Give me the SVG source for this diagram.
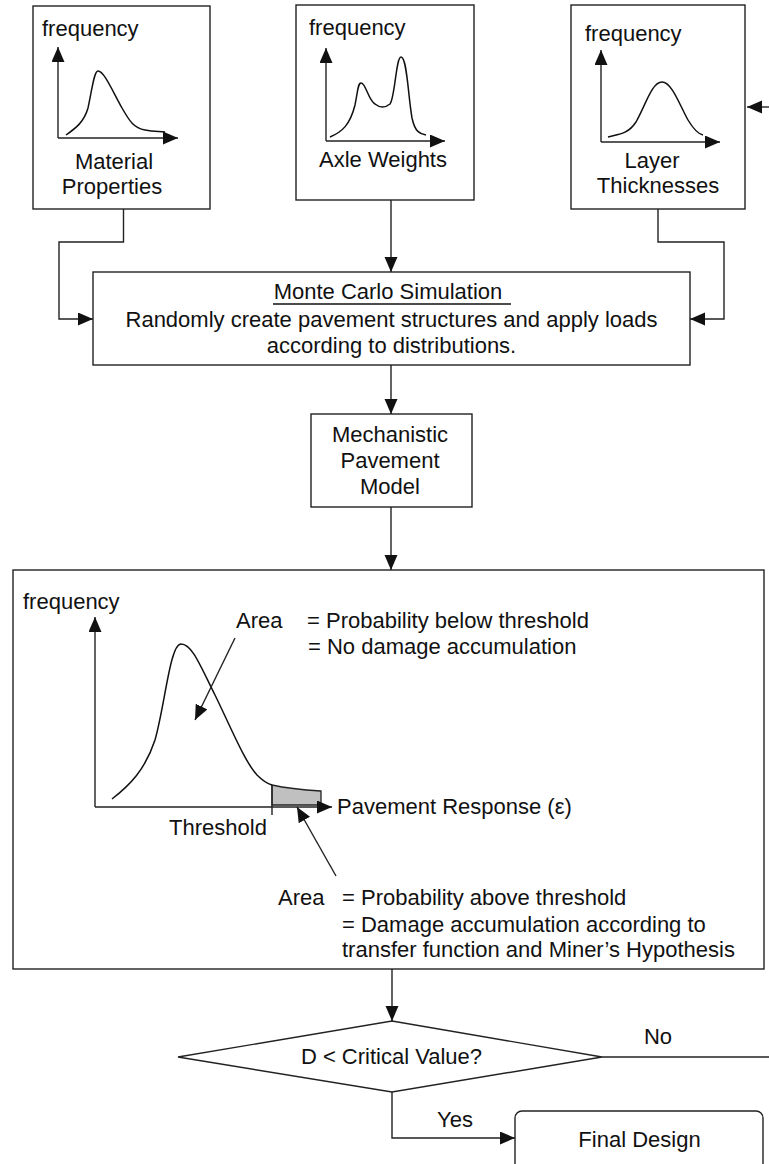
<svg xmlns="http://www.w3.org/2000/svg" width="769" height="1164" viewBox="0 0 769 1164">
<style>
text{font-family:"Liberation Sans",Arial,sans-serif;font-size:22px;fill:#111}
.c{text-anchor:middle}
.box{fill:#fff;stroke:#222;stroke-width:1.4}
.ln{fill:none;stroke:#222;stroke-width:1.4}
.cv{fill:none;stroke:#111;stroke-width:1.5}
</style>
<defs>
<marker id="ah" markerUnits="userSpaceOnUse" markerWidth="16" markerHeight="14" refX="15" refY="6.5" orient="auto">
<path d="M0,0 L15,6.5 L0,13 z" fill="#111"/>
</marker>
</defs>
<rect width="769" height="1164" fill="#fff"/>

<g id="material">
<rect class="box" x="33" y="6" width="177" height="203"/>
<text x="42" y="36">frequency</text>
<line class="ln" x1="58" y1="138" x2="58" y2="47" marker-end="url(#ah)"/>
<line class="ln" x1="58" y1="138" x2="178" y2="138" marker-end="url(#ah)"/>
<path class="cv" d="M66,135 C76,128 84,122 88,108 C92,90 94,71 98,71 C104,71 112,90 122,108 C130,122 134,128 145,130 C155,132 160,131 165,132"/>
<text class="c" x="114" y="169">Material</text>
<text class="c" x="112" y="194">Properties</text>
</g>

<g id="axle">
<rect class="box" x="296" y="5" width="178" height="195"/>
<text x="309" y="35">frequency</text>
<line class="ln" x1="326" y1="141" x2="326" y2="48" marker-end="url(#ah)"/>
<line class="ln" x1="326" y1="141" x2="445" y2="141" marker-end="url(#ah)"/>
<path class="cv" d="M330,137 C342,132 350,125 355,105 C358,90 358,83 361,83 C366,83 368,100 375,104 C380,108 385,108 390,104 C395,98 396,57 401,57 C407,57 408,95 412,118 C415,132 420,134 426,135"/>
<text class="c" x="383" y="167">Axle Weights</text>
</g>

<g id="layer">
<rect class="box" x="571" y="5" width="174" height="204"/>
<text x="585" y="41">frequency</text>
<line class="ln" x1="601" y1="142" x2="601" y2="50" marker-end="url(#ah)"/>
<line class="ln" x1="601" y1="142" x2="720" y2="142" marker-end="url(#ah)"/>
<path class="cv" d="M608,137 C620,134 628,134 636,122 C646,104 652,82 662,82 C672,82 680,106 688,120 C694,130 698,134 703,135"/>
<text class="c" x="652" y="168">Layer</text>
<text class="c" x="658" y="193">Thicknesses</text>
</g>

<g id="montecarlo">
<rect class="box" x="93" y="272" width="597" height="93"/>
<text class="c" x="388" y="299">Monte Carlo Simulation</text>
<line x1="273" y1="304" x2="511" y2="304" stroke="#111" stroke-width="1.3"/>
<text class="c" x="391.5" y="327">Randomly create pavement structures and apply loads</text>
<text class="c" x="391.5" y="353">according to distributions.</text>
</g>

<g id="mechanistic">
<rect class="box" x="311" y="414" width="161" height="93"/>
<text class="c" x="390" y="442">Mechanistic</text>
<text class="c" x="390" y="468">Pavement</text>
<text class="c" x="390" y="494">Model</text>
</g>

<g id="response">
<rect class="box" x="13" y="570" width="751" height="399"/>
<text x="23" y="609">frequency</text>
<path d="M272,785 C290,789 305,790 321,791 L321,805 L272,805 Z" fill="#c0c0c0" stroke="#222" stroke-width="1.3"/>
<line class="ln" x1="95" y1="807" x2="95" y2="617" marker-end="url(#ah)"/>
<line class="ln" x1="95" y1="807" x2="332" y2="807" marker-end="url(#ah)"/>
<line class="ln" x1="272" y1="785" x2="272" y2="815"/>
<path class="cv" d="M112,799 C130,785 145,770 155,740 C165,705 170,644 181,644 C192,644 200,665 215,695 C232,730 245,762 257,775 C263,781 268,784 272,785"/>
<text x="236" y="628">Area</text>
<text x="307" y="628">= Probability below threshold</text>
<text x="308" y="654">= No damage accumulation</text>
<line class="ln" x1="235" y1="638" x2="195" y2="720" marker-end="url(#ah)"/>
<text class="c" x="218" y="835">Threshold</text>
<text x="337" y="814">Pavement Response (ε)</text>
<line class="ln" x1="336" y1="876" x2="297" y2="807" marker-end="url(#ah)"/>
<text x="278" y="905">Area</text>
<text x="342" y="905">= Probability above threshold</text>
<text x="342" y="932">= Damage accumulation according to</text>
<text x="342" y="957">transfer function and Miner’s Hypothesis</text>
</g>

<g id="decision">
<polygon class="box" points="392,1021 602,1057 392,1092 178,1057"/>
<text class="c" x="391.5" y="1064">D &lt; Critical Value?</text>
</g>

<g id="final">
<rect class="box" x="515" y="1111" width="248" height="70" rx="7"/>
<text class="c" x="639.5" y="1147">Final Design</text>
</g>

<g id="connectors">
<polyline class="ln" points="123.5,209 123.5,242 59,242 59,319 93,319" marker-end="url(#ah)"/>
<line class="ln" x1="391" y1="200" x2="391" y2="272" marker-end="url(#ah)"/>
<polyline class="ln" points="658,209 658,242 724,242 724,319 690,319" marker-end="url(#ah)"/>
<line class="ln" x1="769" y1="107" x2="747" y2="107" marker-end="url(#ah)"/>
<line class="ln" x1="391" y1="365" x2="391" y2="414" marker-end="url(#ah)"/>
<line class="ln" x1="391" y1="507" x2="391" y2="570" marker-end="url(#ah)"/>
<line class="ln" x1="392" y1="969" x2="392" y2="1021" marker-end="url(#ah)"/>
<line class="ln" x1="602" y1="1057" x2="769" y2="1057"/>
<text class="c" x="658" y="1044">No</text>
<polyline class="ln" points="392,1092 392,1138 515,1138" marker-end="url(#ah)"/>
<text class="c" x="455" y="1127">Yes</text>
</g>
</svg>
